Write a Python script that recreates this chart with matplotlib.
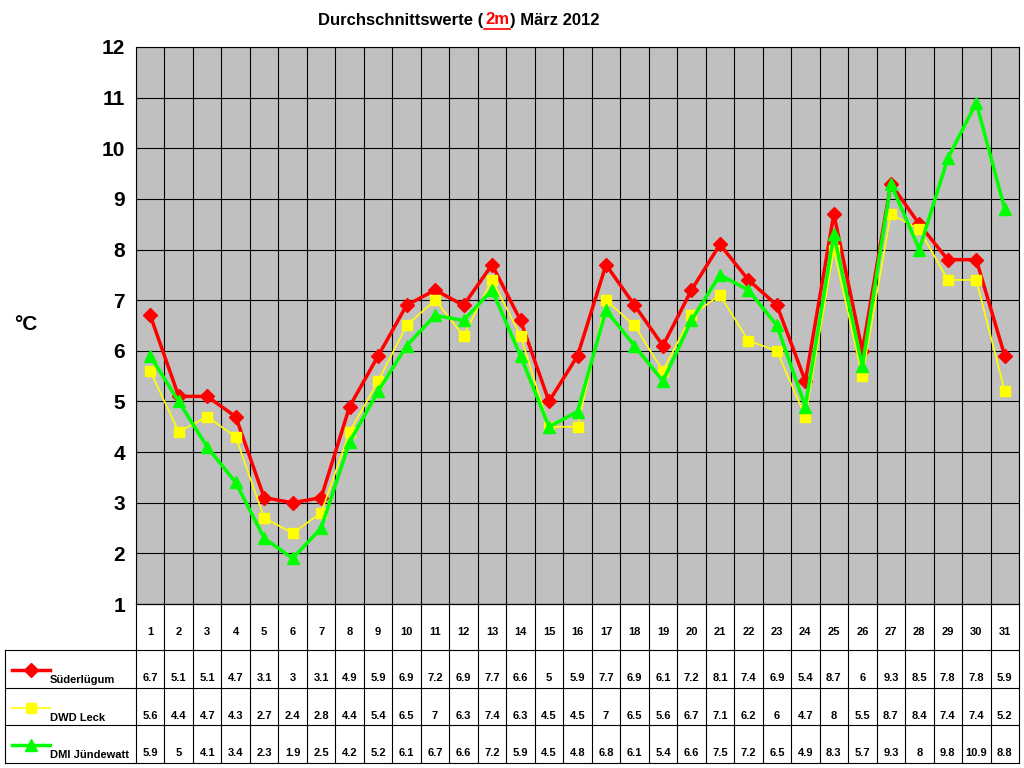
import matplotlib
matplotlib.use("Agg")
import matplotlib.pyplot as plt
from matplotlib.lines import Line2D

days = list(range(1, 32))
sued = [6.7,5.1,5.1,4.7,3.1,3,3.1,4.9,5.9,6.9,7.2,6.9,7.7,6.6,5,5.9,7.7,6.9,6.1,7.2,8.1,7.4,6.9,5.4,8.7,6,9.3,8.5,7.8,7.8,5.9]
dwd = [5.6,4.4,4.7,4.3,2.7,2.4,2.8,4.4,5.4,6.5,7,6.3,7.4,6.3,4.5,4.5,7,6.5,5.6,6.7,7.1,6.2,6,4.7,8,5.5,8.7,8.4,7.4,7.4,5.2]
dmi = [5.9,5,4.1,3.4,2.3,1.9,2.5,4.2,5.2,6.1,6.7,6.6,7.2,5.9,4.5,4.8,6.8,6.1,5.4,6.6,7.5,7.2,6.5,4.9,8.3,5.7,9.3,8,9.8,10.9,8.8]
names = ["Süderlügum", "DWD Leck", "DMI Jündewatt"]
series = [sued, dwd, dmi]
colors = ["#FF0000", "#FFFF00", "#00FF00"]
markers = ["D", "s", "^"]
lws = [2.5, 1.2, 2.5]
ms = [7, 7, 9]

plt.rcParams['font.family'] = ['Liberation Sans', 'DejaVu Sans']
plt.rcParams['font.weight'] = 'bold'
W, H = 1024, 768
fig = plt.figure(figsize=(W/100, H/100), dpi=100)
L, R, T, B = 136, 1019, 47, 604
ax = fig.add_axes([L/W, 1-B/H, (R-L)/W, (B-T)/H])
ax.set_facecolor("#C0C0C0")
ax.set_xlim(0.5, 31.5)
ax.set_ylim(1, 12)
for k in range(32):
    ax.axvline(k+0.5, color="black", lw=0.8)
for y in range(1, 13):
    ax.axhline(y, color="black", lw=0.8)
for s, c, m, lw, sz in zip(series, colors, markers, lws, ms):
    ax.plot(days, s, color=c, marker=m, lw=lw, ms=sz, mec=c, zorder=3)
ax.set_xticks([])
ax.set_yticks(range(1, 13))
ax.tick_params(axis='y', labelsize=15, length=0, pad=8)
for t in ax.get_yticklabels():
    t.set_fontweight('bold')
for sp in ax.spines.values():
    sp.set_color("black")
fig.text(14/W, 1-325/H, "°C", fontsize=15, fontweight='bold', va='center')

# title
ty = 1-20/H
fig.text(483/W, ty, "Durchschnittswerte (", ha='right', va='center', fontsize=12, fontweight='bold')
fig.text(497/W, ty, "2m", ha='center', va='center', fontsize=12, fontweight='bold', color='red')
fig.text(510/W, ty, ") März 2012", ha='left', va='center', fontsize=12, fontweight='bold')
fig.add_artist(Line2D([484/W, 510/W], [1-29/H, 1-29/H], color='red', lw=1.2))

# table
rows_y = [604, 650, 688, 725, 763]
tab = fig.add_axes([L/W, 1-763/H, (R-L)/W, (763-604)/H])
tab.set_xlim(0.5, 31.5)
tab.set_ylim(763, 604)
tab.axis('off')
for k in range(32):
    tab.plot([k+0.5, k+0.5], [604, 763], color='black', lw=0.8, clip_on=False)
for d in days:
    tab.text(d, 632, str(d), ha='center', va='center', fontsize=8, fontweight='bold')
for i, s in enumerate(series):
    yv = rows_y[i+1] + 28
    for d, v in zip(days, s):
        tab.text(d, yv, f"{v:g}", ha='center', va='center', fontsize=8, fontweight='bold')
# left column
lab = fig.add_axes([5/W, 1-763/H, (L-5)/W, (763-604)/H])
lab.set_xlim(5, L)
lab.set_ylim(763, 604)
lab.axis('off')
for y in rows_y[1:]:
    lab.plot([5, L], [y, y], color='black', lw=0.8, clip_on=False)
    tab.plot([0.5, 31.5], [y, y], color='black', lw=0.8, clip_on=False)
tab.plot([0.5, 31.5], [604, 604], color='black', lw=0.8, clip_on=False)
lab.plot([5, 5], [650, 763], color='black', lw=0.8, clip_on=False)
for i, (n, c, m, lw, sz) in enumerate(zip(names, colors, markers, lws, ms)):
    y0 = rows_y[i+1]
    lab.plot([12, 50], [y0+20, y0+20], color=c, lw=lw, clip_on=False)
    lab.plot([31], [y0+20], color=c, marker=m, ms=sz, mec=c, clip_on=False)
    lab.text(50, y0+30, n, ha='left', va='center', fontsize=8, fontweight='bold')

fig.savefig("out.png", dpi=100)
